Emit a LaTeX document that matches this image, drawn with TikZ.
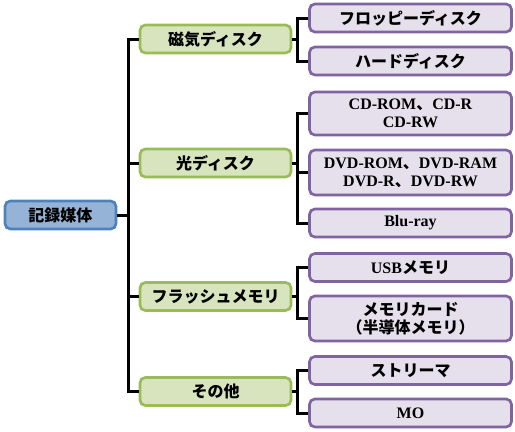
\documentclass[tikz,border=0pt]{standalone}
\usepackage{fontspec}
\setmainfont{Liberation Serif}
\newfontfamily\jp{Noto Sans CJK JP}
\definecolor{rootfill}{HTML}{95B3D7}
\definecolor{rootline}{HTML}{4F81BD}
\definecolor{catfill}{HTML}{D7E4BD}
\definecolor{catline}{HTML}{9BBB59}
\definecolor{itemfill}{HTML}{E5E0EC}
\definecolor{itemline}{HTML}{8064A2}
\begin{document}
\begin{tikzpicture}[x=0.75pt,y=-0.75pt,
  boxbase/.style={rectangle, rounded corners=4pt, line width=2pt, inner sep=0pt, align=center,
    font=\bfseries\fontsize{12}{13.5}\selectfont, minimum height=28*0.75pt},
  rootbox/.style={boxbase, draw=rootline, fill=rootfill, minimum width=111*0.75pt},
  catbox/.style={boxbase, draw=catline, fill=catfill, minimum width=151*0.75pt},
  itembox/.style={boxbase, draw=itemline, fill=itemfill, minimum width=202*0.75pt},
  conn/.style={draw=black, line width=2.25pt}]
\useasboundingbox (0,0) rectangle (515,432);
% nodes
\node[rootbox] (root) at (60.5,215) {{\jp 記録媒体}};
\node[catbox] (mag) at (215.5,39) {{\jp 磁気ディスク}};
\node[catbox] (opt) at (215.5,163) {{\jp 光ディスク}};
\node[catbox] (fla) at (215.5,296.5) {{\jp フラッシュメモリ}};
\node[catbox] (oth) at (215.5,391.5) {{\jp その他}};
\node[itembox] (fd) at (410.5,18) {{\jp フロッピーディスク}};
\node[itembox] (hd) at (410.5,61) {{\jp ハードディスク}};
\node[itembox, minimum height=43*0.75pt] (cd) at (410.5,113.5) {CD-ROM{\jp 、}CD-R\\CD-RW};
\node[itembox, minimum height=45*0.75pt] (dvd) at (410.5,172.5) {DVD-ROM{\jp 、}DVD-RAM\\DVD-R{\jp 、}DVD-RW};
\node[itembox] (br) at (410.5,223) {Blu-ray};
\node[itembox] (usb) at (410.5,267.5) {USB{\jp メモリ}};
\node[itembox, minimum height=45*0.75pt] (mc) at (410.5,318.5) {{\jp メモリカード}\\{\jp （半導体メモリ）}};
\node[itembox] (st) at (410.5,370.5) {{\jp ストリーマ}};
\node[itembox] (mo) at (410.5,413) {MO};
% connectors
\foreach \c in {mag,opt,fla,oth}
  \draw[conn] (root.east) -- ++(11,0) |- (\c.west);
\foreach \c in {fd,hd} \draw[conn] (mag.east) -- ++(5,0) |- (\c.west);
\foreach \c in {cd,dvd,br} \draw[conn] (opt.east) -- ++(5,0) |- (\c.west);
\foreach \c in {usb,mc} \draw[conn] (fla.east) -- ++(5,0) |- (\c.west);
\foreach \c in {st,mo} \draw[conn] (oth.east) -- ++(5,0) |- (\c.west);
\end{tikzpicture}
\end{document}
